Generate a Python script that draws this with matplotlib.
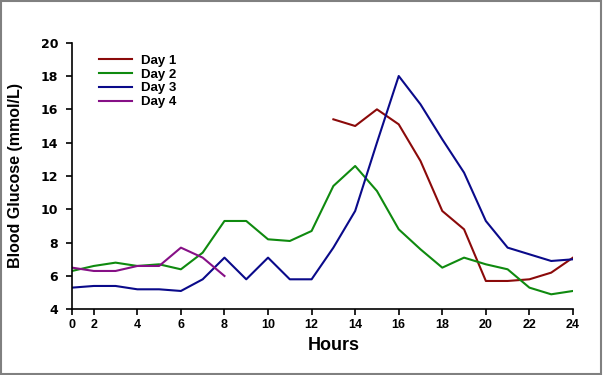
import matplotlib
matplotlib.use("Agg")
import matplotlib.pyplot as plt
from matplotlib.patches import Rectangle

plt.rcParams['font.family'] = ['Liberation Sans', 'DejaVu Sans']

hours = list(range(1, 25))
day1_hours = list(range(13, 25))
day1 = [15.4, 15.0, 16.0, 15.1, 12.9, 9.9, 8.8, 5.7, 5.7, 5.8, 6.2, 7.1]
day2 = [6.3, 6.6, 6.8, 6.6, 6.7, 6.4, 7.4, 9.3, 9.3, 8.2, 8.1, 8.7,
        11.4, 12.6, 11.1, 8.8, 7.6, 6.5, 7.1, 6.7, 6.4, 5.3, 4.9, 5.1]
day3 = [5.3, 5.4, 5.4, 5.2, 5.2, 5.1, 5.8, 7.1, 5.8, 7.1, 5.8, 5.8,
        7.7, 9.9, 14.0, 18.0, 16.3, 14.2, 12.2, 9.3, 7.7, 7.3, 6.9, 7.0]
day4_hours = list(range(1, 9))
day4 = [6.5, 6.3, 6.3, 6.6, 6.6, 7.7, 7.1, 6.0]

xtick_pos = [1] + list(range(2, 25, 2))
xtick_labels = ['0'] + [str(v) for v in range(2, 25, 2)]
yticks = list(range(4, 21, 2))

fig = plt.figure(figsize=(6.03, 3.75), dpi=100)
ax = fig.add_axes([0.1194, 0.1752, 0.8308, 0.711])

ax.plot(day1_hours, day1, color='#8b0a0a', lw=1.5, label='Day 1')
ax.plot(hours, day2, color='#0f8a0f', lw=1.5, label='Day 2')
ax.plot(hours, day3, color='#0a0a8a', lw=1.5, label='Day 3')
ax.plot(day4_hours, day4, color='#861086', lw=1.5, label='Day 4')

ax.set_xlim(1, 24)
ax.set_ylim(4, 20)
ax.set_xticks(xtick_pos)
ax.set_xticklabels(xtick_labels, fontsize=9, fontweight='bold')
ax.set_yticks(yticks)
ax.set_yticklabels([str(v) for v in yticks], fontsize=9, fontweight='bold',
                   family=['DejaVu Sans'])
ax.tick_params(direction='out', length=4, width=1.2)
ax.tick_params(axis='x', pad=3)
ax.tick_params(axis='y', pad=6)
ax.spines['top'].set_visible(False)
ax.spines['right'].set_visible(False)
ax.spines['left'].set_linewidth(1.2)
ax.spines['bottom'].set_linewidth(1.2)

ax.set_xlabel('Hours', fontsize=13, fontweight='bold')
ax.xaxis.set_label_coords(0.523, -0.105, transform=ax.transAxes)
ax.xaxis.label.set_va('top')
ax.set_ylabel('Blood Glucose (mmol/L)', fontsize=11.5, fontweight='bold')
ax.yaxis.set_label_coords(-0.098, 0.5, transform=ax.transAxes)

leg = ax.legend(loc='upper left', bbox_to_anchor=(0.03, 1.0), frameon=False,
                prop={'weight': 'bold', 'size': 9.5}, handlelength=2.5,
                labelspacing=0.12, handletextpad=0.7)

fig.patches.append(Rectangle((0.002, 0.003), 0.995, 0.994, transform=fig.transFigure,
                             fill=False, edgecolor='#808080', lw=1.5))

fig.savefig('out.png', dpi=100)
